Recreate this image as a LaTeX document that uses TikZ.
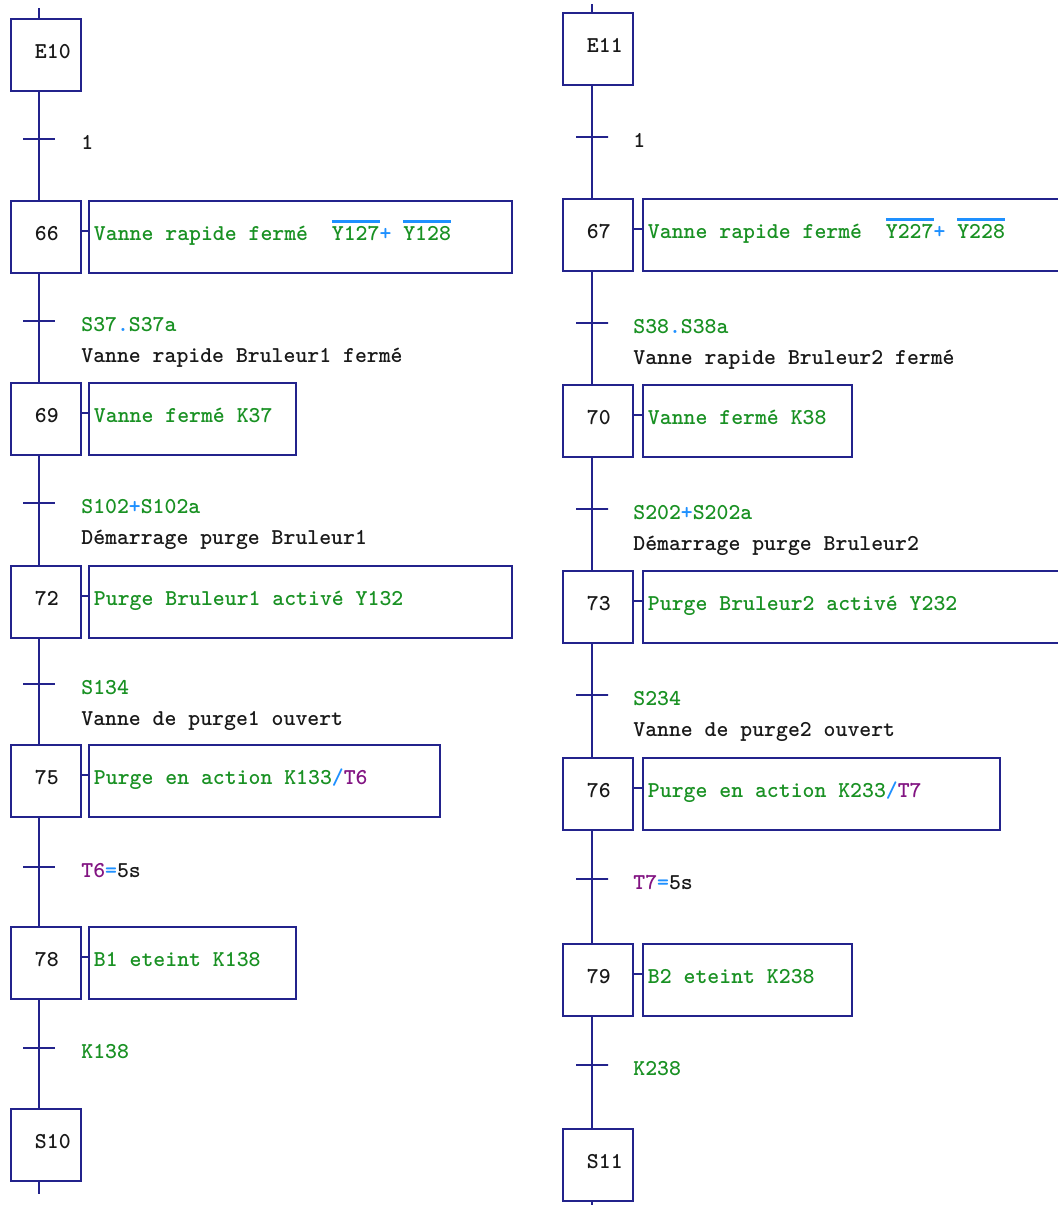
\documentclass[tikz,border=0pt]{standalone}
\usetikzlibrary{calc}
\definecolor{grafNavy}  {RGB}{35,  35, 140}
\definecolor{grafGreen} {RGB}{25, 145,  35}
\definecolor{grafBlue}  {RGB}{30, 144, 255}
\definecolor{grafPurple}{RGB}{130, 20, 130}
\definecolor{grafInk}   {RGB}{25,  25,  25}
\newcommand{\barre}[1]{\setbox0\hbox{#1}\rlap{{\color{grafBlue}\rule[10pt]{\wd0}{1.2pt}}}\box0}
\newcommand{\op}[1]{\textcolor{grafBlue}{#1}}
\newcommand{\tempo}[1]{\textcolor{grafPurple}{#1}}
\tikzset{
  ligne/.style={grafNavy,line width=1.1pt},
  stepbox/.style={draw=grafNavy,line width=1.1pt,anchor=north west,
    inner xsep=0.48cm,minimum height=1.44cm,
    execute at begin node={\hbox to 0.44cm\bgroup},
    execute at end node={\hss\egroup},
    text height=6pt,text depth=2.4pt,text=grafInk},
  act/.style={draw=grafNavy,line width=1.1pt,anchor=north west,
    inner xsep=0.1cm,minimum height=1.44cm,
    execute at begin node={\hbox to #1\bgroup},
    execute at end node={\hfil\egroup},
    text height=6pt,text depth=2.4pt,text=grafGreen},
  transit/.style={draw=grafNavy,line width=1.1pt,minimum width=0.64cm,
    minimum height=0pt,inner sep=0pt},
  cond/.style={anchor=base west,inner sep=0pt,text=grafGreen},
  rem/.style={anchor=base west,inner sep=0pt,text=grafInk}
}
\begin{document}
\begin{tikzpicture}[x=0.02cm,y=-0.02cm,font=\ttfamily\bfseries\fontsize{12.9}{15}\selectfont]
  \useasboundingbox (0,0) rectangle (1058,1205);
  \clip (0,0) rectangle (1058,1205);
  \fill[white] (0,0) rectangle (1058,1205);
  % Bruleur 1
  \node[stepbox] (e10) at (10,18) {E10};
  \node[transit] (t1) at (39,139) {};
  \node[cond,text=grafInk] (c1) at (81,149) {1};
  \node[stepbox] (s66) at (10,200) {66};
  \node[act=8.26cm] (a66) at (88,200)
    {Vanne rapide fermé~~\barre{Y127}\op{+}~\barre{Y128}};
  \node[transit] (t2) at (39,321) {};
  \node[cond] (c2) at (81,331) {S37\op{.}S37a};
  \node[rem] (r2) at (81,362) {Vanne rapide Bruleur1 fermé};
  \node[stepbox] (s69) at (10,382) {69};
  \node[act=3.94cm] (a69) at (88,382) {Vanne fermé K37};
  \node[transit] (t3) at (39,503) {};
  \node[cond] (c3) at (81,513) {S102\op{+}S102a};
  \node[rem] (r3) at (81,544) {Démarrage purge Bruleur1};
  \node[stepbox] (s72) at (10,565) {72};
  \node[act=8.26cm] (a72) at (88,565) {Purge Bruleur1 activé Y132};
  \node[transit] (t4) at (39,684) {};
  \node[cond] (c4) at (81,694) {S134};
  \node[rem] (r4) at (81,725) {Vanne de purge1 ouvert};
  \node[stepbox] (s75) at (10,744) {75};
  \node[act=6.82cm] (a75) at (88,744) {Purge en action K133\op{/}\tempo{T6}};
  \node[transit] (t5) at (39,867) {};
  \node[cond] (c5) at (81,877) {\tempo{T6}\op{=}\textcolor{grafInk}{5s}};
  \node[stepbox] (s78) at (10,926) {78};
  \node[act=3.94cm] (a78) at (88,926) {B1 eteint K138};
  \node[transit] (t6) at (39,1048) {};
  \node[cond] (c6) at (81,1058) {K138};
  \node[stepbox] (s10) at (10,1108) {S10};
  % Liaisons
  \draw[ligne] (e10.north -| t1) -- ++(0,-10)
    (e10.south -| t1) -- (s66.north -| t1)
    (s66.south -| t2) -- (s69.north -| t2)
    (s69.south -| t3) -- (s72.north -| t3)
    (s72.south -| t4) -- (s75.north -| t4)
    (s75.south -| t5) -- (s78.north -| t5)
    (s78.south -| t6) -- (s10.north -| t6)
    (s10.south -| t6) -- ++(0,12);
  \draw[ligne] ($(s66.east)+(0,-6)$) -- ($(a66.west)+(0,-6)$)
    ($(s69.east)+(0,-6)$) -- ($(a69.west)+(0,-6)$)
    ($(s72.east)+(0,-6)$) -- ($(a72.west)+(0,-6)$)
    ($(s75.east)+(0,-6)$) -- ($(a75.west)+(0,-6)$)
    ($(s78.east)+(0,-6)$) -- ($(a78.west)+(0,-6)$);
  % Bruleur 2
  \node[stepbox] (e11) at (562,12) {E11};
  \node[transit] (t7) at (592,137) {};
  \node[cond,text=grafInk] (c7) at (633,147) {1};
  \node[stepbox] (s67) at (562,198) {67};
  \node[act=9.0cm] (a67) at (642,198)
    {Vanne rapide fermé~~\barre{Y227}\op{+}~\barre{Y228}};
  \node[transit] (t8) at (592,323) {};
  \node[cond] (c8) at (633,333) {S38\op{.}S38a};
  \node[rem] (r8) at (633,364) {Vanne rapide Bruleur2 fermé};
  \node[stepbox] (s70) at (562,384) {70};
  \node[act=3.98cm] (a70) at (642,384) {Vanne fermé K38};
  \node[transit] (t9) at (592,509) {};
  \node[cond] (c9) at (633,519) {S202\op{+}S202a};
  \node[rem] (r9) at (633,550) {Démarrage purge Bruleur2};
  \node[stepbox] (s73) at (562,570) {73};
  \node[act=9.0cm] (a73) at (642,570) {Purge Bruleur2 activé Y232};
  \node[transit] (t10) at (592,695) {};
  \node[cond] (c10) at (633,705) {S234};
  \node[rem] (r10) at (633,736) {Vanne de purge2 ouvert};
  \node[stepbox] (s76) at (562,757) {76};
  \node[act=6.94cm] (a76) at (642,757) {Purge en action K233\op{/}\tempo{T7}};
  \node[transit] (t11) at (592,879) {};
  \node[cond] (c11) at (633,889) {\tempo{T7}\op{=}\textcolor{grafInk}{5s}};
  \node[stepbox] (s79) at (562,943) {79};
  \node[act=3.98cm] (a79) at (642,943) {B2 eteint K238};
  \node[transit] (t12) at (592,1065) {};
  \node[cond] (c12) at (633,1075) {K238};
  \node[stepbox] (s11) at (562,1128) {S11};
  % Liaisons
  \draw[ligne] (e11.north -| t7) -- ++(0,-8)
    (e11.south -| t7) -- (s67.north -| t7)
    (s67.south -| t8) -- (s70.north -| t8)
    (s70.south -| t9) -- (s73.north -| t9)
    (s73.south -| t10) -- (s76.north -| t10)
    (s76.south -| t11) -- (s79.north -| t11)
    (s79.south -| t12) -- (s11.north -| t12)
    (s11.south -| t12) -- ++(0,12);
  \draw[ligne] ($(s67.east)+(0,-6)$) -- ($(a67.west)+(0,-6)$)
    ($(s70.east)+(0,-6)$) -- ($(a70.west)+(0,-6)$)
    ($(s73.east)+(0,-6)$) -- ($(a73.west)+(0,-6)$)
    ($(s76.east)+(0,-6)$) -- ($(a76.west)+(0,-6)$)
    ($(s79.east)+(0,-6)$) -- ($(a79.west)+(0,-6)$);
\end{tikzpicture}
\end{document}
